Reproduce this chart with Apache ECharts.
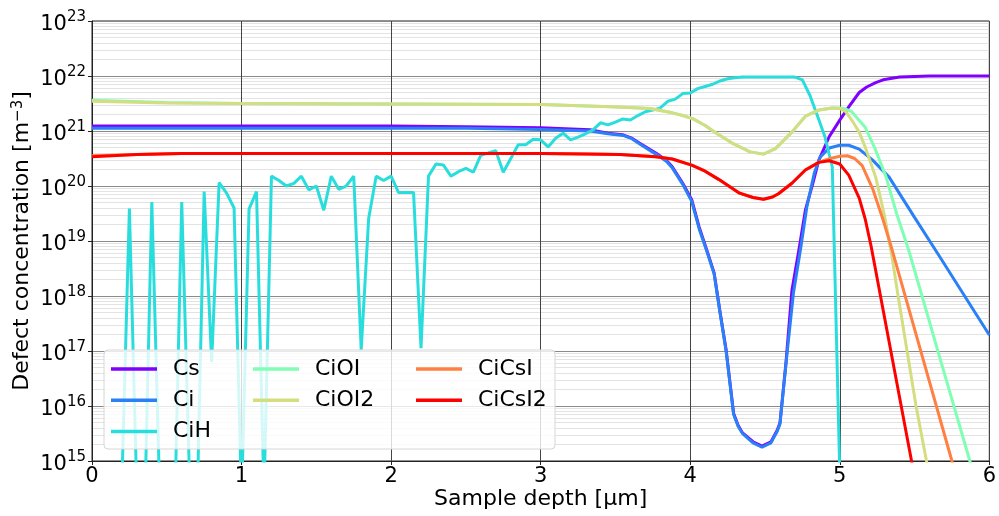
<!DOCTYPE html>
<html><head><meta charset="utf-8">
<script src="https://cdn.jsdelivr.net/npm/echarts@6/dist/echarts.min.js"></script>
<style>html,body{margin:0;padding:0;background:#fff}#c{width:999px;height:516px}</style>
</head><body><div id="c"></div>
<script>
const FONT = 'DejaVu Sans';
const seriesNames = ['Cs', 'Ci', 'CiH', 'CiOI', 'CiOI2', 'CiCsI', 'CiCsI2'];
const seriesColors = ['#8000ff', '#2a80f6', '#2adddd', '#80ffb4', '#d4dd80', '#ff8042', '#ff0000'];
const xTicks = [0, 1, 2, 3, 4, 5, 6];
const yDecades = [15, 16, 17, 18, 19, 20, 21, 22, 23];

const cs = [[0,1.23e21],[1,1.23e21],[2,1.23e21],[2.5,1.2e21],[3.0,1.15e21],[3.33,1.05e21],[3.45,9.12e20],[3.55,8.51e20],[3.61,7.41e20],[3.66,6.03e20],[3.77,3.98e20],[3.84,2.95e20],[3.88,2.24e20],[3.95,1.12e20],[4.01,5.62e19],[4.06,1.78e19],[4.11,6.92e18],[4.16,2.63e18],[4.2,5.01e17],[4.24,1.05e17],[4.29,7.41e15],[4.32,4.47e15],[4.35,3.24e15],[4.42,2.24e15],[4.48,1.86e15],[4.54,2.24e15],[4.58,3.55e15],[4.6,4.9e15],[4.64,6.03e16],[4.68,1.26e18],[4.73,7.76e18],[4.77,3.63e19],[4.82,1.12e20],[4.86,2.95e20],[4.93,7.94e20],[5.0,1.58e21],[5.06,2.75e21],[5.13,5.01e21],[5.18,6.31e21],[5.24,7.59e21],[5.29,8.51e21],[5.4,9.55e21],[5.6,1e22],[6,1e22]];

const ci = [[0,1.12e21],[1,1.12e21],[2,1.12e21],[2.5,1.12e21],[3.0,1.07e21],[3.33,1.0e21],[3.45,8.91e20],[3.55,8.32e20],[3.61,7.24e20],[3.66,5.89e20],[3.77,3.8e20],[3.84,2.82e20],[3.88,2.14e20],[3.95,1.07e20],[4.01,5.25e19],[4.06,1.66e19],[4.11,6.61e18],[4.16,2.51e18],[4.2,4.79e17],[4.24,1e17],[4.29,7.08e15],[4.32,4.27e15],[4.35,3.16e15],[4.42,2.14e15],[4.48,1.78e15],[4.54,2.14e15],[4.58,3.39e15],[4.6,4.68e15],[4.65,1.05e17],[4.69,1.12e18],[4.74,7.76e18],[4.78,4.17e19],[4.83,1.74e20],[4.87,3.39e20],[4.93,4.9e20],[5.0,5.5e20],[5.06,5.5e20],[5.13,4.68e20],[5.22,2.95e20],[5.33,1.45e20],[5.5,2.69e19],[5.66,5.62e18],[6,1.95e17]];

const ciH = [[0,1e14],[0.15,1e14],[0.2,4e14],[0.25,3.89e19],[0.3,2.5e14],[0.35,6.3e13],[0.4,5.13e19],[0.45,5e14],[0.5,1e14],[0.55,5e13],[0.6,5.13e19],[0.65,7.9e14],[0.7,6.3e13],[0.75,7.94e19],[0.8,6.3e16],[0.85,1.15e20],[0.9,7.41e19],[0.95,3.98e19],[1.0,2e14],[1.05,3.8e19],[1.1,7.94e19],[1.15,2.5e14],[1.2,1.51e20],[1.25,1.26e20],[1.3,1.0e20],[1.35,1.12e20],[1.4,1.51e20],[1.45,8.51e19],[1.5,1.0e20],[1.55,3.63e19],[1.6,1.51e20],[1.65,8.71e19],[1.7,1.0e20],[1.75,1.51e20],[1.8,1.05e17],[1.85,2.57e19],[1.9,1.51e20],[1.95,1.26e20],[2.0,1.51e20],[2.05,7.59e19],[2.1,7.59e19],[2.15,7.59e19],[2.2,1.12e17],[2.25,1.51e20],[2.3,2.51e20],[2.35,2.4e20],[2.4,1.51e20],[2.45,1.82e20],[2.5,2.09e20],[2.55,1.78e20],[2.6,3.63e20],[2.65,3.98e20],[2.7,4.37e20],[2.75,1.78e20],[2.8,3.16e20],[2.85,5.62e20],[2.9,5.62e20],[2.95,7.08e20],[3.0,6.92e20],[3.05,5.13e20],[3.1,7.41e20],[3.15,9.12e20],[3.2,6.92e20],[3.25,7.76e20],[3.3,8.91e20],[3.35,1.05e21],[3.4,1.41e21],[3.45,1.29e21],[3.5,1.45e21],[3.55,1.66e21],[3.6,1.58e21],[3.65,1.91e21],[3.7,2.24e21],[3.75,2.4e21],[3.8,2.63e21],[3.85,3.47e21],[3.9,3.8e21],[3.95,4.79e21],[4.0,4.9e21],[4.05,5.89e21],[4.1,6.46e21],[4.15,7.08e21],[4.2,8.13e21],[4.25,8.91e21],[4.3,9.33e21],[4.35,9.55e21],[4.4,9.55e21],[4.5,9.55e21],[4.6,9.55e21],[4.7,9.55e21],[4.75,8.51e21],[4.8,4.47e21],[4.85,1.91e21],[4.9,7.94e20],[4.95,2.24e20],[5.0,6.3e14],[5.05,1e10],[6,1e10]];

const ciOI = [[0,3.63e21],[0.5,3.31e21],[1,3.16e21],[2,3.09e21],[3,3.02e21],[3.47,2.75e21],[3.66,2.63e21],[3.73,2.57e21],[3.88,2.14e21],[3.95,1.91e21],[4.02,1.66e21],[4.1,1.26e21],[4.17,9.33e20],[4.28,6.03e20],[4.4,4.17e20],[4.49,3.8e20],[4.57,4.79e20],[4.68,9.55e20],[4.77,1.86e21],[4.86,2.4e21],[4.95,2.63e21],[5.0,2.63e21],[5.04,2.51e21],[5.08,2.24e21],[5.17,1.17e21],[5.24,4.47e20],[5.31,1.45e20],[5.38,3.16e19],[5.46,6.92e18],[5.55,1e18],[5.66,9.12e16],[5.87,1e15],[6,6e13]];

const ciOI2 = [[0,3.47e21],[0.5,3.24e21],[1,3.16e21],[2,3.09e21],[3,3.02e21],[3.47,2.75e21],[3.66,2.63e21],[3.73,2.57e21],[3.88,2.14e21],[3.95,1.91e21],[4.02,1.66e21],[4.1,1.26e21],[4.17,9.33e20],[4.28,6.03e20],[4.4,4.17e20],[4.49,3.8e20],[4.57,4.79e20],[4.68,9.55e20],[4.77,1.86e21],[4.86,2.4e21],[4.95,2.63e21],[5.0,2.57e21],[5.04,2.24e21],[5.08,1.58e21],[5.13,9.55e20],[5.17,5.13e20],[5.24,1.45e20],[5.3,2.82e19],[5.35,5.01e18],[5.39,1e18],[5.45,1e17],[5.51,1e16],[5.58,1e15],[6,5e8]];

const ciCsI = [[0,3.55e20],[0.3,3.72e20],[0.6,3.89e20],[1,3.89e20],[2,3.89e20],[3,3.89e20],[3.3,3.8e20],[3.53,3.72e20],[3.77,3.39e20],[3.88,3.09e20],[4.01,2.4e20],[4.1,1.86e20],[4.19,1.32e20],[4.33,7.41e19],[4.42,6.17e19],[4.49,5.75e19],[4.55,6.31e19],[4.59,7.24e19],[4.68,1.12e20],[4.77,1.95e20],[4.86,2.69e20],[4.9,2.95e20],[4.95,3.24e20],[5.0,3.47e20],[5.05,3.55e20],[5.1,3.16e20],[5.15,2.34e20],[5.22,8.91e19],[5.29,2.4e19],[5.35,6.92e18],[5.75,1e15],[6,4e12]];

const ciCsI2 = [[0,3.39e20],[0.3,3.72e20],[0.6,3.89e20],[1,3.89e20],[2,3.89e20],[3,3.89e20],[3.3,3.8e20],[3.53,3.72e20],[3.77,3.39e20],[3.88,3.09e20],[4.01,2.4e20],[4.1,1.86e20],[4.19,1.32e20],[4.33,7.41e19],[4.42,6.17e19],[4.49,5.75e19],[4.55,6.31e19],[4.59,7.24e19],[4.68,1.12e20],[4.77,1.95e20],[4.86,2.69e20],[4.93,2.88e20],[5.0,2.51e20],[5.06,1.58e20],[5.13,6.03e19],[5.17,2.51e19],[5.21,7.94e18],[5.3,3.98e17],[5.48,1e15],[6,4e7]];

const seriesData = [cs, ci, ciH, ciOI, ciOI2, ciCsI, ciCsI2];

// minor grid lines at 2..9 x 10^n
const minorLines = [];
for (let i = 0; i < yDecades.length - 1; i++) {
  for (let m = 2; m <= 9; m++) minorLines.push({ yAxis: m * Math.pow(10, yDecades[i]) });
}

const chart = echarts.init(document.getElementById('c'), null, { renderer: 'canvas' });

const lineSeries = seriesNames.map((n, i) => ({
  name: n, type: 'line', data: seriesData[i], symbol: 'none', showSymbol: false,
  lineStyle: { color: seriesColors[i], width: 3 }, itemStyle: { color: seriesColors[i] },
  z: 3, clip: true, animation: false
}));

const legendCommon = {
  orient: 'vertical', top: 357, padding: 0, itemWidth: 46, itemHeight: 12, itemGap: 7.3, z: 10,
  icon: 'path://M0,0 L46,0 L46,3.5 L0,3.5 Z',
  textStyle: { fontFamily: FONT, fontSize: 22, color: '#000', lineHeight: 24, padding: [0, 0, 0, 11] },
  selectedMode: false
};

chart.setOption({
  animation: false,
  backgroundColor: '#fff',
  grid: { left: 92, top: 21, width: 898, height: 440, show: true, borderColor: '#222', borderWidth: 1, backgroundColor: 'transparent' },
  xAxis: {
    type: 'value', min: 0, max: 6, interval: 1, z: 1,
    name: 'Sample depth [μm]', nameLocation: 'middle', nameGap: 27, nameMoveOverlap: false,
    nameTextStyle: { fontFamily: FONT, fontSize: 22, color: '#000' },
    axisLine: { show: true, lineStyle: { color: '#222', width: 1 } },
    axisTick: { show: true, length: 4, lineStyle: { color: '#222' } },
    axisLabel: { fontFamily: FONT, fontSize: 21, color: '#000', margin: 5, formatter: v => String(v) },
    splitLine: { show: true, lineStyle: { color: '#444', width: 1 } }
  },
  yAxis: {
    type: 'log', logBase: 10, min: 1e15, max: 1e23, splitNumber: 8, z: 1,
    name: 'Defect concentration [m{s|−3}]', nameLocation: 'middle', nameGap: 58, nameRotate: 90, nameMoveOverlap: false,
    nameTextStyle: { fontFamily: FONT, fontSize: 22, color: '#000',
      rich: { s: { fontFamily: FONT, fontSize: 15, color: '#000', verticalAlign: 'top', padding: [0, 0, 8, 0] } } },
    axisLine: { show: true, lineStyle: { color: '#222', width: 1 } },
    axisTick: { show: true, length: 4, lineStyle: { color: '#222' } },
    axisLabel: {
      margin: 6,
      formatter: v => '{b|10}{s|' + Math.round(Math.log(v) / Math.LN10) + '}',
      rich: {
        b: { fontFamily: FONT, fontSize: 21, color: '#000', padding: [8, 0, 0, 0] },
        s: { fontFamily: FONT, fontSize: 15, color: '#000', padding: [0, 0, 8, 0] }
      }
    },
    splitLine: { show: true, lineStyle: { color: '#8a8a8a', width: 1.2 } }
  },
  legend: [
    Object.assign({}, legendCommon, { left: 111, data: ['Cs', 'Ci', 'CiH'] }),
    Object.assign({}, legendCommon, { left: 253, data: ['CiOI', 'CiOI2'] }),
    Object.assign({}, legendCommon, { left: 416, data: ['CiCsI', 'CiCsI2'] })
  ],
  graphic: {
    elements: [{
      type: 'rect', z: 5, silent: true,
      shape: { x: 104, y: 350, width: 451, height: 99, r: 4 },
      style: { fill: 'rgba(255,255,255,0.8)', stroke: '#d6d6d6', lineWidth: 1 }
    }]
  },
  series: [{
    name: '_minor', type: 'line', data: [], symbol: 'none', z: 0, silent: true,
    markLine: { silent: true, symbol: 'none', z: 0, label: { show: false }, animation: false,
      lineStyle: { color: '#e3e3e3', width: 1, type: 'solid' }, data: minorLines }
  }].concat(lineSeries)
});
</script></body></html>
